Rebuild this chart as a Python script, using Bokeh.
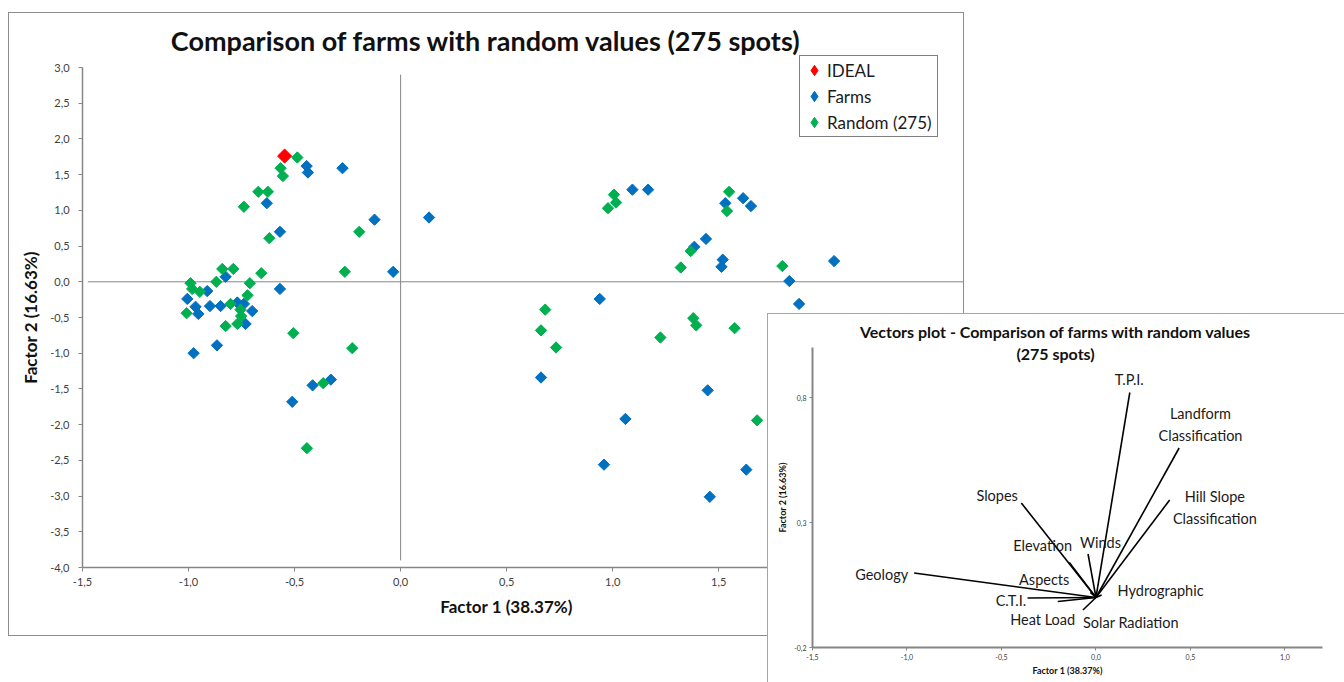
import numpy as np
from bokeh.plotting import figure
from bokeh.models import (Range1d, FixedTicker, CustomJSTickFormatter, Label,
                          Legend, LegendItem)
from bokeh.embed import file_html
from bokeh.resources import INLINE
from bokeh.core.properties import value

# ---------------- data (main chart) ----------------
ideal_x = [-0.547]
ideal_y = [1.76]

farms_x = [-0.443, -0.437, -0.274, -0.631, -0.123, 0.134, -0.569, -0.035, -0.825, -0.569,
           -0.912, -1.006, -0.967, -0.899, -0.849, -0.770, -0.739, -0.700, -0.954, -0.731,
           -0.976, -0.866, -0.415, -0.329, -0.511, 1.093, 1.167, 1.615, 1.531, 1.652,
           1.440, 1.385, 1.519, 1.513, 2.044, 1.833, 1.879, 0.939, 0.662, 1.448,
           1.060, 0.959, 1.630, 1.458]
farms_y = [1.62, 1.53, 1.59, 1.10, 0.87, 0.90, 0.70, 0.14, 0.07, -0.10,
           -0.13, -0.24, -0.35, -0.34, -0.34, -0.29, -0.31, -0.41, -0.45, -0.59,
           -1.00, -0.89, -1.45, -1.37, -1.68, 1.29, 1.29, 1.17, 1.10, 1.06,
           0.60, 0.49, 0.31, 0.21, 0.29, 0.01, -0.31, -0.24, -1.34, -1.52,
           -1.92, -2.56, -2.63, -3.01]

random_x = [-0.487, -0.566, -0.555, -0.671, -0.626, -0.739, -0.195, -0.619, -0.263, -0.657,
            -0.841, -0.789, -0.869, -0.991, -0.711, -0.983, -0.947, -0.722, -0.802, -0.755,
            -1.009, -0.752, -0.770, -0.825, -0.506, -0.228, -0.365, -0.442, 1.006, 1.016,
            0.978, 1.549, 1.539, 1.368, 1.321, 1.800, 0.682, 1.380, 1.394, 1.575,
            0.662, 0.733, 1.225, 1.681]
random_y = [1.74, 1.59, 1.48, 1.26, 1.26, 1.05, 0.70, 0.61, 0.14, 0.12,
            0.18, 0.18, 0.00, -0.02, -0.02, -0.10, -0.14, -0.19, -0.31, -0.39,
            -0.44, -0.48, -0.59, -0.62, -0.72, -0.93, -1.42, -2.33, 1.22, 1.11,
            1.03, 1.26, 0.99, 0.43, 0.20, 0.22, -0.39, -0.51, -0.61, -0.65,
            -0.68, -0.92, -0.78, -1.94]

main_x_ticks = [-1.5, -1.0, -0.5, 0.0, 0.5, 1.0, 1.5, 2.0, 2.5]
main_y_ticks = [3.0, 2.5, 2.0, 1.5, 1.0, 0.5, 0.0, -0.5, -1.0, -1.5, -2.0, -2.5, -3.0, -3.5, -4.0]

# ---------------- data (vectors inset) ----------------
vec_names = ["T.P.I.", "Landform\nClassification", "Hill Slope\nClassification", "Slopes",
             "Elevation", "Winds", "Geology", "Aspects", "Hydrographic", "C.T.I.",
             "Heat Load", "Solar Radiation"]
vec_x = [0.179, 0.44, 0.39, -0.395, -0.141, -0.042, -0.962, -0.03, 0.03, -0.362, -0.202, -0.069]
vec_y = [0.82, 0.598, 0.39, 0.378, 0.14, 0.174, 0.098, 0.02, 0.01, -0.002, -0.016, -0.05]
# label anchor positions (layout only)
lab_x = [0.176, 0.553, 0.629, -0.523, -0.282, 0.024, -1.134, -0.274, 0.342, -0.45, -0.282, 0.185]
lab_y = [0.874, 0.692, 0.36, 0.41, 0.21, 0.22, 0.094, 0.074, 0.03, -0.013, -0.087, -0.1]

inset_x_ticks = [-1.5, -1.0, -0.5, 0.0, 0.5, 1.0]
inset_y_ticks = [-0.2, 0.3, 0.8]

FONT = "Lato"
BLUE = "#0070C0"
GREEN = "#00B050"
RED = "#FF0000"
AXIS = "#868686"
comma = CustomJSTickFormatter(code="return tick.toFixed(1).replace('.', ',')")

# ---------------- main chart ----------------
# the frame fills the whole canvas; axes sit at fixed data locations
p1 = figure(width=956, height=624, x_range=Range1d(-1.849, 2.659), y_range=Range1d(-4.966, 3.77),
            output_backend="svg", toolbar_location=None, title=None,
            min_border_left=0, min_border_right=0, min_border_top=0, min_border_bottom=0)
p1.margin = (12, 0, 0, 8)
p1.border_fill_color = None
p1.background_fill_color = None
p1.outline_line_color = None
p1.grid.visible = False
p1.styles = {"background-color": "white", "box-shadow": "inset 0 0 0 1px #8c8c8c"}

for ax in (p1.xaxis[0], p1.yaxis[0]):
    ax.axis_line_color = AXIS
    ax.axis_line_width = 1.5
    ax.major_tick_line_color = AXIS
    ax.major_tick_out = 4
    ax.major_tick_in = 0
    ax.minor_tick_line_color = None
    ax.major_label_text_font = FONT
    ax.major_label_text_font_size = "11px"
    ax.major_label_text_color = "#404040"
    ax.formatter = comma
    ax.axis_label_text_font = FONT
    ax.axis_label_text_font_size = "17px"
    ax.axis_label_text_font_style = "bold"
    ax.axis_label_text_color = "#111111"
p1.xaxis[0].ticker = FixedTicker(ticks=main_x_ticks)
p1.yaxis[0].ticker = FixedTicker(ticks=main_y_ticks)
p1.xaxis[0].bounds = (-1.5, 2.5)
p1.xaxis[0].fixed_location = -4.0
p1.yaxis[0].bounds = (-4.0, 3.0)
p1.yaxis[0].fixed_location = -1.5
p1.xaxis[0].major_label_standoff = 6
p1.yaxis[0].major_label_standoff = 9
p1.xaxis[0].axis_label = "Factor 1 (38.37%)"
p1.xaxis[0].axis_label_standoff = 7
p1.yaxis[0].axis_label = "Factor 2 (16.63%)"
p1.yaxis[0].axis_label_standoff = 6

# reference cross lines
p1.segment(x0=[0.0], y0=[2.9], x1=[0.0], y1=[-3.9], line_color=AXIS, line_width=1)
p1.segment(x0=[-1.475], y0=[0.0], x1=[2.659], y1=[0.0], line_color=AXIS, line_width=1)

r_ideal = p1.scatter(ideal_x, ideal_y, marker="square", angle=np.pi / 4, size=10,
                     fill_color=RED, line_color=RED)
r_farms = p1.scatter(farms_x, farms_y, marker="square", angle=np.pi / 4, size=8,
                     fill_color=BLUE, line_color=BLUE)
r_rand = p1.scatter(random_x, random_y, marker="square", angle=np.pi / 4, size=8,
                    fill_color=GREEN, line_color=GREEN)

# legend swatches (diamond glyphs with no drawable point; legends do not rotate markers)
lg_ideal = p1.scatter(x=[np.nan], y=[np.nan], marker="diamond", fill_color=RED, line_color=RED)
lg_farms = p1.scatter(x=[np.nan], y=[np.nan], marker="diamond", fill_color=BLUE, line_color=BLUE)
lg_rand = p1.scatter(x=[np.nan], y=[np.nan], marker="diamond", fill_color=GREEN, line_color=GREEN)

legend = Legend(items=[LegendItem(label="IDEAL", renderers=[lg_ideal]),
                       LegendItem(label="Farms", renderers=[lg_farms]),
                       LegendItem(label="Random (275)", renderers=[lg_rand])],
                location=(791, 499), orientation="vertical", padding=1, spacing=0, margin=0,
                glyph_width=26, glyph_height=26, label_height=26, label_width=109,
                label_standoff=0, label_text_font=FONT, label_text_font_size="17px",
                label_text_color="#1a1a1a", border_line_color="black", border_line_width=1,
                background_fill_color="white", background_fill_alpha=1.0)
p1.add_layout(legend)

p1.add_layout(Label(x=0.403, y=3.378, text="Comparison of farms with random values (275 spots)",
                    text_align="center", text_baseline="middle", text_font=FONT,
                    text_font_size="27px", text_font_style="bold", text_color="#111111"))

# ---------------- vectors inset (cropped by the window edge, as in the source) ----------------
p2 = figure(width=577, height=369, x_range=Range1d(-1.738, 1.315), y_range=Range1d(-0.34, 1.136),
            output_backend="svg", toolbar_location=None, title=None,
            min_border_left=0, min_border_right=0, min_border_top=0, min_border_bottom=0)
p2.border_fill_color = None
p2.background_fill_color = None
p2.outline_line_color = None
p2.grid.visible = False
p2.styles = {"position": "absolute", "left": "767px", "top": "313px",
             "background-color": "white", "box-shadow": "inset 1px 1px 0 0 #a6a6a6",
             "z-index": "10"}

for ax in (p2.xaxis[0], p2.yaxis[0]):
    ax.axis_line_color = AXIS
    ax.axis_line_width = 2
    ax.major_tick_line_color = AXIS
    ax.major_tick_out = 3
    ax.major_tick_in = 0
    ax.minor_tick_line_color = None
    ax.major_label_text_font = FONT
    ax.major_label_text_font_size = "7px"
    ax.major_label_text_color = "#404040"
    ax.major_label_standoff = 3
    ax.formatter = comma
    ax.axis_label_text_font = FONT
    ax.axis_label_text_font_size = "9px"
    ax.axis_label_text_font_style = "bold"
    ax.axis_label_text_color = "#111111"
    ax.axis_label_standoff = 3
p2.xaxis[0].ticker = FixedTicker(ticks=inset_x_ticks)
p2.yaxis[0].ticker = FixedTicker(ticks=inset_y_ticks)
p2.xaxis[0].bounds = (-1.5, 1.2)
p2.xaxis[0].fixed_location = -0.2
p2.yaxis[0].bounds = (-0.2, 1.0)
p2.yaxis[0].fixed_location = -1.5
p2.xaxis[0].axis_label = "Factor 1 (38.37%)"
p2.yaxis[0].axis_label = "Factor 2 (16.63%)"
p2.xaxis[0].axis_label_standoff = 2

n = len(vec_x)
p2.segment(x0=[0.0] * n, y0=[0.0] * n, x1=vec_x, y1=vec_y, line_color="black", line_width=1.6)
p2.text(x=lab_x, y=lab_y, text=vec_names, text_align="center", text_baseline="middle",
        text_font=value(FONT), text_font_size="14.5px", text_color="#1a1a1a",
        text_line_height=1.35)

p2.add_layout(Label(x=-0.214, y=1.063, text="Vectors plot - Comparison of farms with random values",
                    text_align="center", text_baseline="middle", text_font=FONT,
                    text_font_size="16px", text_font_style="bold", text_color="#111111"))
p2.add_layout(Label(x=-0.214, y=0.976, text="(275 spots)",
                    text_align="center", text_baseline="middle", text_font=FONT,
                    text_font_size="16px", text_font_style="bold", text_color="#111111"))

open("out.html", "w").write(file_html([p1, p2], INLINE))
